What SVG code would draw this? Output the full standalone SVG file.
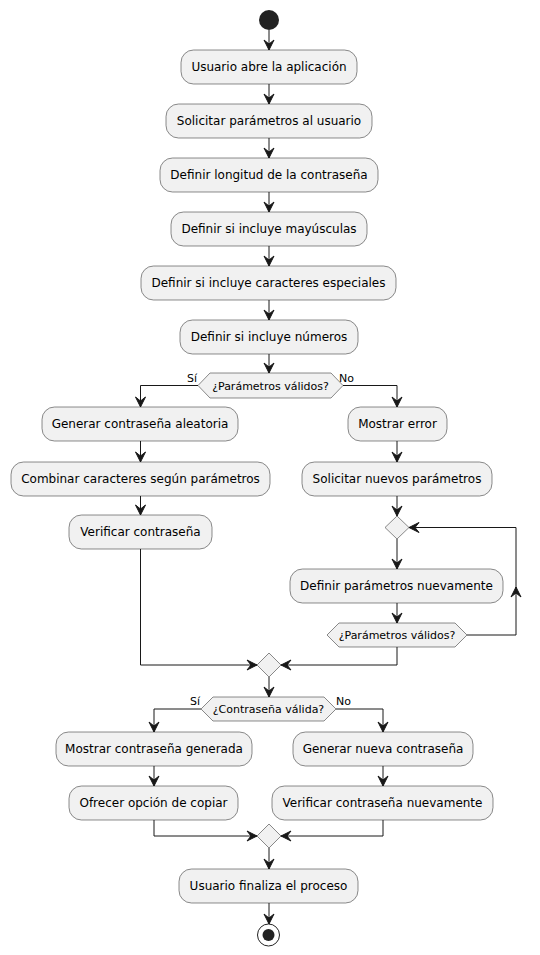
<svg xmlns="http://www.w3.org/2000/svg" width="540" height="955" viewBox="0 0 540 955">
  <style>
    .act rect { fill: #F1F1F1; stroke: #181818; stroke-width: 0.5; }
    .act text, .dec text { font-family: "DejaVu Sans", sans-serif; font-size: 12px; fill: #000; text-anchor: middle; }
    .dec text { font-size: 11px; }
    .dec polygon { fill: #F1F1F1; stroke: #181818; stroke-width: 0.5; }
    .conn path { fill: none; stroke: #181818; stroke-width: 1; marker-end: url(#arrow); }
    .lbl { font-family: "DejaVu Sans", sans-serif; font-size: 11px; fill: #000; }
  </style>
  <defs>
    <marker id="arrow" markerUnits="userSpaceOnUse" markerWidth="12" markerHeight="12" refX="10" refY="5" orient="auto" overflow="visible">
      <path d="M0,0 L10,5 L0,10 L4,5 Z" fill="#181818" stroke="#181818" stroke-width="1"/>
    </marker>
  </defs>

  <!-- start / end -->
  <g id="start"><circle cx="269" cy="20" r="10" fill="#222222"/></g>
  <g id="end">
    <circle cx="268.5" cy="935" r="11" fill="none" stroke="#222222" stroke-width="1"/>
    <circle cx="268.5" cy="935" r="6" fill="#222222"/>
  </g>

  <!-- actions -->
  <g id="n1" class="act"><rect x="181" y="50" width="176" height="34" rx="12.5"/><text x="269" y="71">Usuario abre la aplicación</text></g>
  <g id="n2" class="act"><rect x="166" y="104" width="206" height="34" rx="12.5"/><text x="269" y="125">Solicitar parámetros al usuario</text></g>
  <g id="n3" class="act"><rect x="160" y="158" width="218" height="34" rx="12.5"/><text x="269" y="179">Definir longitud de la contraseña</text></g>
  <g id="n4" class="act"><rect x="171" y="212" width="196" height="34" rx="12.5"/><text x="269" y="233">Definir si incluye mayúsculas</text></g>
  <g id="n5" class="act"><rect x="141" y="266" width="255" height="34" rx="12.5"/><text x="268.5" y="287">Definir si incluye caracteres especiales</text></g>
  <g id="n6" class="act"><rect x="180" y="320" width="178" height="34" rx="12.5"/><text x="269" y="341">Definir si incluye números</text></g>

  <g id="d1" class="dec"><polygon points="198,385.5 210,373 331,373 343,385.5 331,398 210,398"/><text x="270.5" y="389.5">¿Parámetros válidos?</text></g>

  <g id="n7" class="act"><rect x="42" y="407" width="196" height="34" rx="12.5"/><text x="140" y="428">Generar contraseña aleatoria</text></g>
  <g id="n8" class="act"><rect x="11" y="462" width="259" height="34" rx="12.5"/><text x="140.5" y="483">Combinar caracteres según parámetros</text></g>
  <g id="n9" class="act"><rect x="69" y="515" width="143" height="34" rx="12.5"/><text x="140.5" y="536">Verificar contraseña</text></g>

  <g id="n10" class="act"><rect x="348" y="407" width="99" height="34" rx="12.5"/><text x="397.5" y="428">Mostrar error</text></g>
  <g id="n11" class="act"><rect x="302" y="462" width="190" height="34" rx="12.5"/><text x="397" y="483">Solicitar nuevos parámetros</text></g>
  <g id="m1" class="dec"><polygon points="397,516 409,527.5 397,539 385,527.5"/></g>
  <g id="n12" class="act"><rect x="290" y="569" width="213" height="34" rx="12.5"/><text x="396.5" y="590">Definir parámetros nuevamente</text></g>
  <g id="d2" class="dec"><polygon points="327,635 339,623 455,623 467,635 455,647 339,647"/><text x="397" y="639">¿Parámetros válidos?</text></g>

  <g id="m2" class="dec"><polygon points="269,653 281,665 269,677 257,665"/></g>
  <g id="d3" class="dec"><polygon points="201,709 213,697 324,697 336,709 324,721 213,721"/><text x="268.5" y="713">¿Contraseña válida?</text></g>

  <g id="n13" class="act"><rect x="56" y="732" width="196" height="34" rx="12.5"/><text x="154" y="753">Mostrar contraseña generada</text></g>
  <g id="n14" class="act"><rect x="69" y="786" width="169" height="34" rx="12.5"/><text x="153.5" y="807">Ofrecer opción de copiar</text></g>
  <g id="n15" class="act"><rect x="293" y="732" width="180" height="34" rx="12.5"/><text x="383" y="753">Generar nueva contraseña</text></g>
  <g id="n16" class="act"><rect x="272" y="786" width="221" height="34" rx="12.5"/><text x="382.5" y="807">Verificar contraseña nuevamente</text></g>

  <g id="m3" class="dec"><polygon points="269,824 281,836 269,848 257,836"/></g>
  <g id="n17" class="act"><rect x="179" y="869" width="179" height="34" rx="12.5"/><text x="268.5" y="890">Usuario finaliza el proceso</text></g>

  <!-- connectors -->
  <g id="connectors" class="conn">
    <path d="M269,30 V50"/>
    <path d="M269,84 V104"/>
    <path d="M269,138 V158"/>
    <path d="M269,192 V212"/>
    <path d="M269,246 V266"/>
    <path d="M269,300 V320"/>
    <path d="M269,354 V373"/>
    <path d="M198,385.5 H140.5 V407"/>
    <path d="M343,385.5 H397 V407"/>
    <path d="M140.5,441 V462"/>
    <path d="M140.5,496 V515"/>
    <path d="M140.5,549 V665 H257"/>
    <path d="M397,441 V462"/>
    <path d="M397,496 V516"/>
    <path d="M397,539 V569"/>
    <path d="M397,603 V623"/>
    <path d="M467,635 H516 V587"/>
    <path d="M516,590 V527.5 H409"/>
    <path d="M397,647 V665 H281"/>
    <path d="M269,677 V697"/>
    <path d="M201,709 H154 V732"/>
    <path d="M336,709 H383 V732"/>
    <path d="M154,766 V786"/>
    <path d="M383,766 V786"/>
    <path d="M154,820 V836 H257"/>
    <path d="M383,820 V836 H281"/>
    <path d="M269,848 V869"/>
    <path d="M269,903 V924"/>
  </g>
  <text class="lbl" x="197" y="382" text-anchor="end">Sí</text>
  <text class="lbl" x="339" y="382">No</text>
  <text class="lbl" x="200" y="705" text-anchor="end">Sí</text>
  <text class="lbl" x="336" y="705">No</text>
</svg>
